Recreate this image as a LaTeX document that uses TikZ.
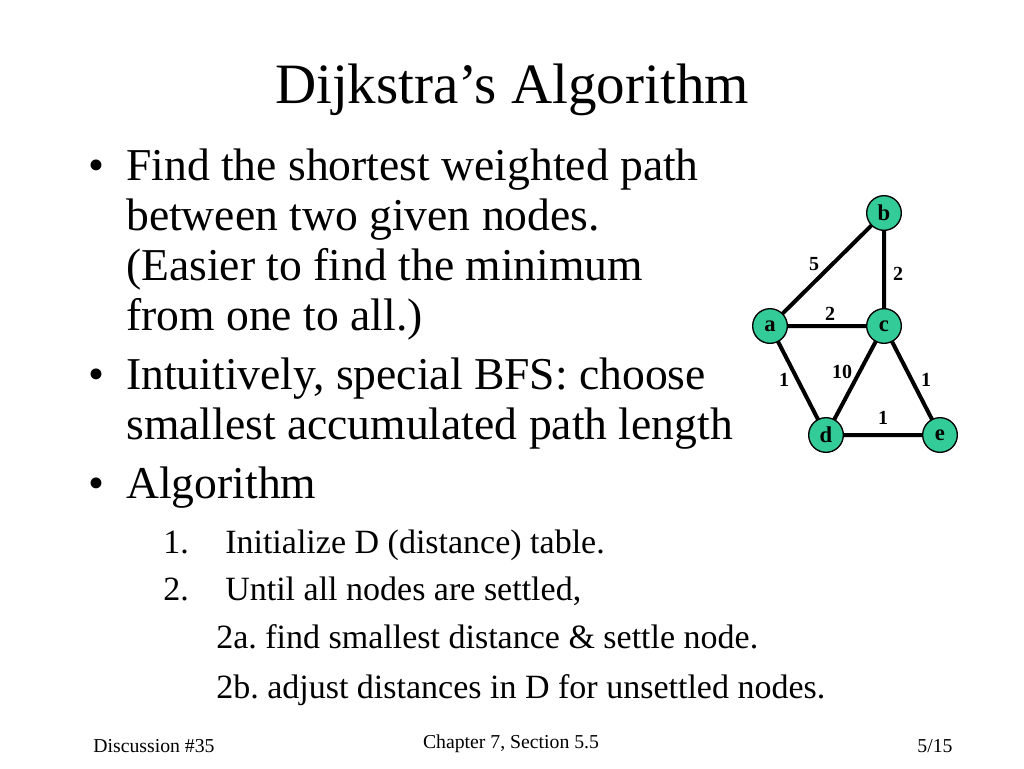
\documentclass[tikz,border=0pt]{standalone}
\usepackage{fontspec}
\setmainfont{Liberation Serif}
\definecolor{ng}{RGB}{51,204,153}
\begin{document}
\begin{tikzpicture}[x=0.75pt,y=-0.75pt,
 body/.style={anchor=base west,inner sep=0,font=\fontsize{34.2}{38}\selectfont},
 sub/.style={anchor=base west,inner sep=0,font=\fontsize{25.5}{28}\selectfont},
 foot/.style={anchor=base,inner sep=0,font=\fontsize{14.8}{17}\selectfont},
 gn/.style={circle,draw=black,line width=1pt,fill=ng,minimum size=26pt,inner sep=0,font=\fontsize{17}{19}\selectfont\bfseries},
 ed/.style={line width=3pt},
 wl/.style={font=\fontsize{15}{17}\selectfont\bfseries,inner sep=0}]
\useasboundingbox (0,0) rectangle (1024,768);
\node[anchor=base,inner sep=0,font=\fontsize{42.8}{48}\selectfont] (title) at (512,103) {Dijkstra’s Algorithm};
\node[body] (b1) at (88,180) {•};
\node[body] (l1) at (126,180) {Find the shortest weighted path};
\node[body] (l2) at (126,230) {between two given nodes.};
\node[body] (l3) at (126,280) {(Easier to find the minimum};
\node[body] (l4) at (126,330) {from one to all.)};
\node[body] (b2) at (88,389) {•};
\node[body] (l5) at (126,389) {Intuitively, special BFS: choose};
\node[body] (l6) at (126,439) {smallest accumulated path length};
\node[body] (b3) at (88,498) {•};
\node[body] (l7) at (126,498) {Algorithm};
\node[sub] (n1) at (163,553) {1.};
\node[sub] (s1) at (225,553) {Initialize D (distance) table.};
\node[sub] (n2) at (163,600) {2.};
\node[sub] (s2) at (225,600) {Until all nodes are settled,};
\node[sub] (s3) at (216,648) {2a.\ find smallest distance \& settle node.};
\node[sub] (s4) at (216,698) {2b.\ adjust distances in D for unsettled nodes.};
\node[foot] (f1) at (154,752) {Discussion \#35};
\node[foot] (f2) at (511,748) {Chapter 7, Section 5.5};
\node[foot] (f3) at (935,752) {5/15};
\draw[ed] (770,326) -- (884,213) (884,213) -- (884,326) (770,326) -- (884,326)
 (770,326) -- (826,435) (884,326) -- (826,435) (884,326) -- (940,435) (826,435) -- (940,435);
\node[gn] (a) at (770,326) {a};
\node[gn] (b) at (884,213) {b};
\node[gn] (c) at (884,326) {c};
\node[gn] (d) at (826,435) {d};
\node[gn] (e) at (940,435) {e};
\node[wl] at (814,264) {5};
\node[wl] at (898,274) {2};
\node[wl] at (830,314) {2};
\node[wl] at (784,380) {1};
\node[wl] at (842,372) {10};
\node[wl] at (926,380) {1};
\node[wl] at (883,418) {1};
\end{tikzpicture}
\end{document}
